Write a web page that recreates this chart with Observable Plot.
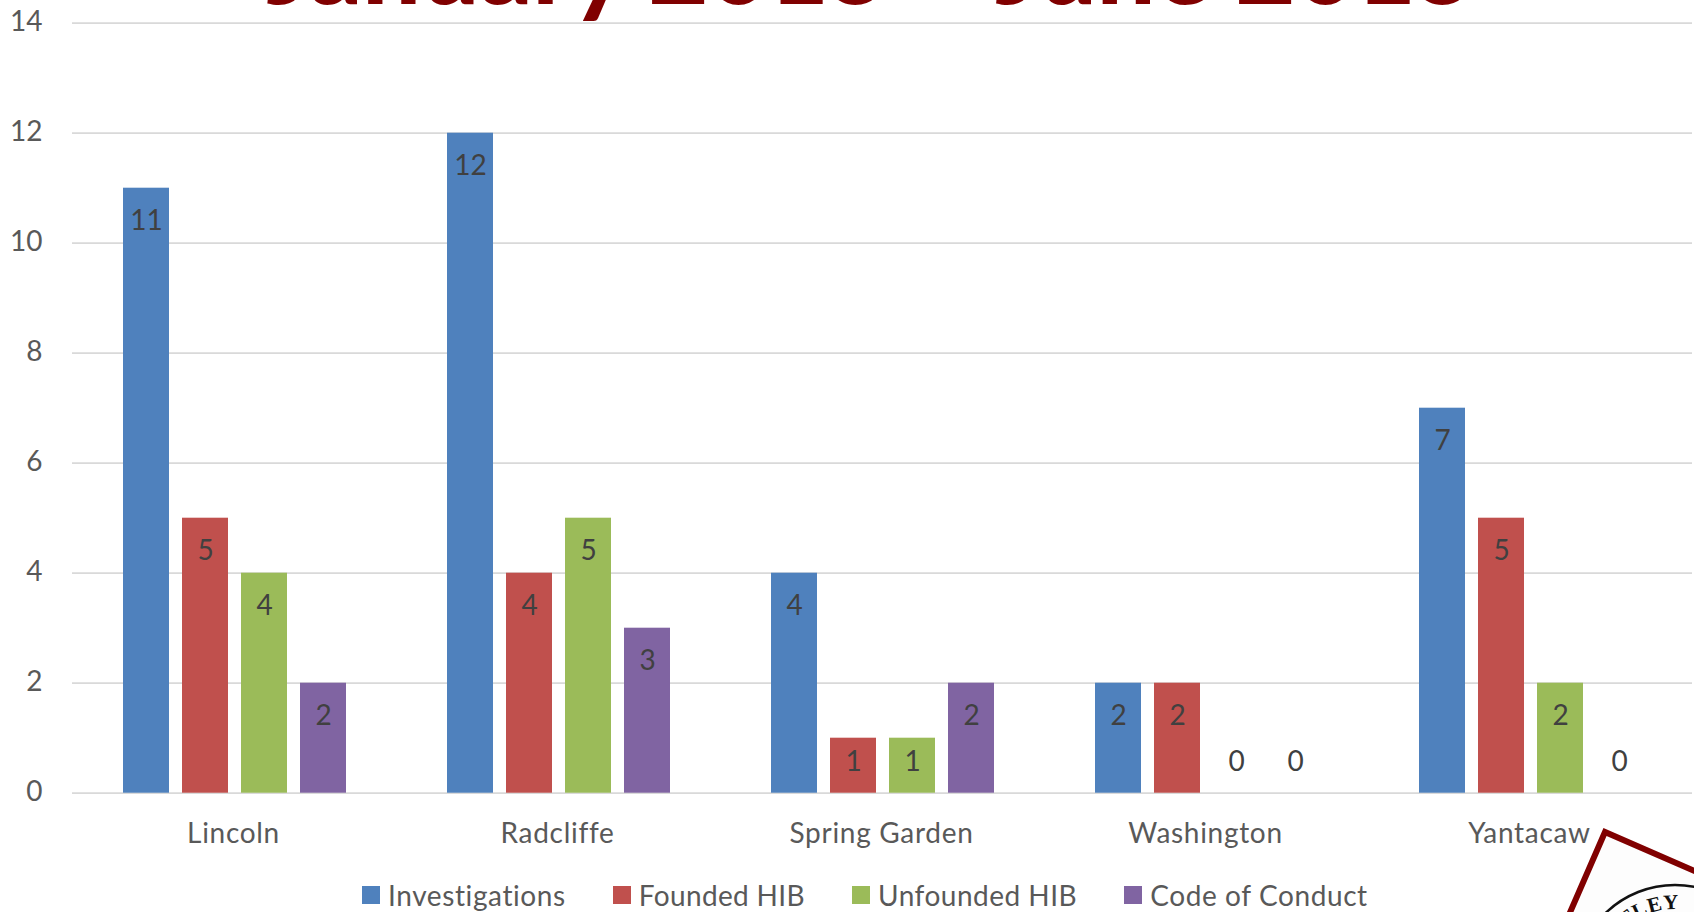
<!DOCTYPE html>
<html>
<head>
<meta charset="utf-8">
<script src="https://cdn.jsdelivr.net/npm/d3@7"></script>
<script src="https://cdn.jsdelivr.net/npm/@observablehq/plot@0.6"></script>
<style>
html,body{margin:0;padding:0;width:1694px;height:912px;overflow:hidden;background:#fff;font-family:Lato,"Open Sans",sans-serif}
#wrap{position:relative;width:1694px;height:912px;overflow:hidden}
h1{position:absolute;margin:0;left:0;width:1742px;top:-101px;text-align:center;font:900 103.5px/130px Lato,sans-serif;color:#800000;white-space:nowrap;z-index:2}
#chart{position:absolute;left:0;top:0;z-index:3}
#chart svg{background:transparent}
#chart g[aria-label="fx-axis tick label"] text{letter-spacing:.7px}
#legend{position:absolute;left:362px;top:873px;display:flex;gap:47px;font-size:28px;line-height:44px;color:#595959;letter-spacing:.6px;white-space:nowrap;z-index:3}
#legend .item{display:flex;align-items:center;gap:8px}
#legend .item:nth-child(2){letter-spacing:.35px}
#legend .item:nth-child(3){letter-spacing:.5px}
#legend .sw{display:block;width:18px;height:18px}
#seal{position:absolute;left:0;top:0;z-index:4;pointer-events:none}
</style>
</head>
<body>
<div id="wrap">
<h1>January 2015 – June 2015</h1>
<div id="chart"></div>
<div id="legend"></div>
<svg id="seal" width="1694" height="912" viewBox="0 0 1694 912">
  <rect width="400" height="400" transform="translate(1605,832) rotate(23.5)" fill="#fdfdfd" stroke="#800000" stroke-width="6"/>
  <circle cx="1675" cy="985" r="100" fill="none" stroke="#111" stroke-width="2.5"/>
  <path id="sealArc" d="M 1599 985 A 76 76 0 0 1 1679 909.1" fill="none"/>
  <text font-family="Liberation Serif" font-weight="700" font-size="21" letter-spacing="0.5" fill="#111" text-anchor="end"><textPath href="#sealArc" startOffset="100%">NUTLEY</textPath></text>
</svg>
</div>
<script>
const schools = ["Lincoln", "Radcliffe", "Spring Garden", "Washington", "Yantacaw"];
const series = ["Investigations", "Founded HIB", "Unfounded HIB", "Code of Conduct"];
const colors = ["#4F81BD", "#C0504D", "#9BBB59", "#8064A2"];
const investigations = [11, 12, 4, 2, 7];
const foundedHIB = [5, 4, 1, 2, 5];
const unfoundedHIB = [4, 5, 1, 0, 2];
const codeOfConduct = [2, 3, 2, 0, 0];
const yTicks = [0, 2, 4, 6, 8, 10, 12, 14];

const columns = [investigations, foundedHIB, unfoundedHIB, codeOfConduct];
const rows = series.flatMap((s, i) => schools.map((school, j) => ({school, series: s, value: columns[i][j]})));

const plot = Plot.plot({
  width: 1694,
  height: 850,
  marginLeft: 72,
  marginRight: 2,
  marginTop: 22.7,
  marginBottom: 57.3,
  style: {background: "transparent", fontFamily: "Lato, sans-serif", overflow: "hidden"},
  fx: {domain: schools, paddingInner: 0, paddingOuter: 0, label: null},
  x: {domain: series, paddingInner: 0.22, paddingOuter: 0.855, align: 0.505, axis: null, label: null},
  y: {domain: [0, 14], label: null},
  color: {domain: series, range: colors},
  marks: [
    Plot.ruleY(yTicks, {stroke: "#d9d9d9", strokeWidth: 1.7, strokeOpacity: 1}),
    Plot.barY(rows, {fx: "school", x: "series", y: "value", fill: "series"}),
    Plot.text(rows.filter(d => d.value >= 2), {fx: "school", x: "series", y: "value", text: "value", dy: 33, fontSize: 28, fill: "#404040"}),
    Plot.text(rows.filter(d => d.value < 2), {fx: "school", x: "series", y: () => 0, text: "value", dy: -31, fontSize: 28, fill: "#404040"}),
    Plot.axisY(yTicks, {tickSize: 0, tickPadding: 30, dy: -1, fontSize: 28, fill: "#595959", label: null, tickFormat: d => String(d)}),
    Plot.axisFx({anchor: "bottom", tickSize: 0, tickPadding: 30, fontSize: 28, fill: "#595959", label: null, dx: -1})
  ]
});
document.getElementById("chart").append(plot);

const legend = document.getElementById("legend");
series.forEach((s, i) => {
  const item = document.createElement("div");
  item.className = "item";
  const sw = document.createElement("span");
  sw.className = "sw";
  sw.style.background = colors[i];
  const label = document.createElement("span");
  label.textContent = s;
  item.append(sw, label);
  legend.append(item);
});
</script>
</body>
</html>
